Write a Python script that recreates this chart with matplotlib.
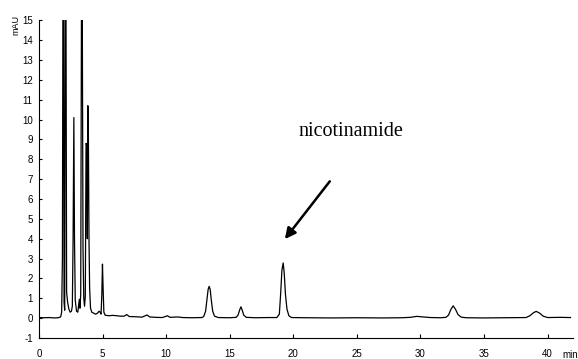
import matplotlib
matplotlib.use("Agg")
import matplotlib.pyplot as plt

# chromatogram trace (time in min, signal in mAU)
time_min = [
    0.00, 0.40, 0.80, 1.20, 1.50, 1.70, 1.78, 1.84, 1.88, 1.93,
    1.97, 2.02, 2.06, 2.12, 2.17, 2.25, 2.35, 2.45, 2.55, 2.62,
    2.68, 2.74, 2.79, 2.85, 2.95, 3.05, 3.12, 3.17, 3.22, 3.28,
    3.34, 3.40, 3.46, 3.52, 3.58, 3.64, 3.70, 3.76, 3.80, 3.84,
    3.88, 3.93, 3.98, 4.05, 4.15, 4.30, 4.45, 4.60, 4.72, 4.80,
    4.88, 4.94, 4.99, 5.04, 5.10, 5.20, 5.50, 5.80, 6.10, 6.40,
    6.70, 6.90, 7.10, 7.60, 8.10, 8.50, 8.70, 9.20, 9.70, 10.10,
    10.30, 10.90, 11.30, 12.00, 12.80, 12.95, 13.10, 13.22, 13.30, 13.38,
    13.46, 13.55, 13.66, 13.80, 14.10, 15.00, 15.50, 15.65, 15.80, 15.88,
    15.98, 16.10, 16.30, 17.00, 18.00, 18.70, 18.90, 19.00, 19.10, 19.20,
    19.28, 19.38, 19.50, 19.65, 19.85, 21.00, 23.00, 25.00, 27.00, 28.50,
    29.20, 29.70, 30.20, 30.80, 31.60, 32.00, 32.20, 32.40, 32.57, 32.75,
    32.95, 33.20, 33.60, 35.00, 37.00, 38.30, 38.60, 38.90, 39.10, 39.35,
    39.65, 40.00, 41.00, 41.80,
]
signal_mau = [
    0.03, 0.02, 0.03, 0.01, 0.02, 0.06, 0.30, 3.00, 16.0, 16.0,
    0.80, 0.40, 16.0, 16.0, 1.30, 0.80, 0.45, 0.30, 0.35, 0.60,
    4.00, 10.1, 4.00, 0.90, 0.35, 0.30, 0.70, 0.95, 0.50, 1.20,
    16.0, 16.0, 3.50, 1.00, 0.60, 1.10, 8.80, 8.70, 4.00, 10.7,
    9.50, 4.00, 1.50, 0.50, 0.30, 0.25, 0.20, 0.25, 0.35, 0.30,
    0.20, 1.20, 2.72, 1.50, 0.30, 0.15, 0.12, 0.14, 0.12, 0.10,
    0.10, 0.18, 0.08, 0.07, 0.05, 0.16, 0.06, 0.04, 0.03, 0.12,
    0.04, 0.06, 0.03, 0.02, 0.03, 0.08, 0.35, 1.00, 1.45, 1.60,
    1.45, 0.90, 0.35, 0.10, 0.03, 0.02, 0.04, 0.15, 0.45, 0.57,
    0.40, 0.15, 0.04, 0.02, 0.03, 0.03, 0.20, 1.20, 2.40, 2.78,
    2.30, 1.20, 0.45, 0.12, 0.03, 0.02, 0.01, 0.02, 0.01, 0.02,
    0.04, 0.09, 0.06, 0.03, 0.02, 0.04, 0.15, 0.45, 0.62, 0.45,
    0.18, 0.05, 0.02, 0.01, 0.02, 0.03, 0.12, 0.28, 0.34, 0.26,
    0.10, 0.03, 0.04, 0.03,
]
x_ticks = [0, 5, 10, 15, 20, 25, 30, 35, 40]
y_ticks = list(range(-1, 16))

plt.rcParams['font.family'] = ['Liberation Sans', 'DejaVu Sans']
plt.rcParams['axes.unicode_minus'] = False

fig = plt.figure(figsize=(5.78, 3.59), dpi=100)
ax = fig.add_axes([0.0675, 0.0585, 0.924, 0.885])

ax.plot(time_min, signal_mau, color='black', linewidth=0.9)

ax.set_xlim(0, 42)
ax.set_ylim(-1, 15)
ax.set_xticks(x_ticks)
ax.set_yticks(y_ticks)
ax.spines['top'].set_visible(False)
ax.spines['right'].set_visible(False)
ax.spines['left'].set_linewidth(0.8)
ax.spines['bottom'].set_linewidth(0.8)
ax.tick_params(axis='x', direction='in', length=3, width=0.8, labelsize=7, pad=8)
ax.tick_params(axis='y', direction='in', length=2.5, width=0.8, labelsize=7, pad=4.5)

fig.text(16 / 578, 1 - 25 / 359, 'mAU', rotation=90, fontsize=6.5, ha='center', va='center')
fig.text(0.986, 0.011, 'min', fontsize=7, ha='center', va='center')

ax.annotate('', xy=(19.2, 3.87), xytext=(23.0, 7.0),
            arrowprops=dict(arrowstyle='-|>', lw=1.8, color='black', mutation_scale=16))
ax.text(20.4, 9.15, 'nicotinamide', fontsize=14.5, family='Liberation Serif', va='baseline')

fig.savefig('out.png', dpi=100)
